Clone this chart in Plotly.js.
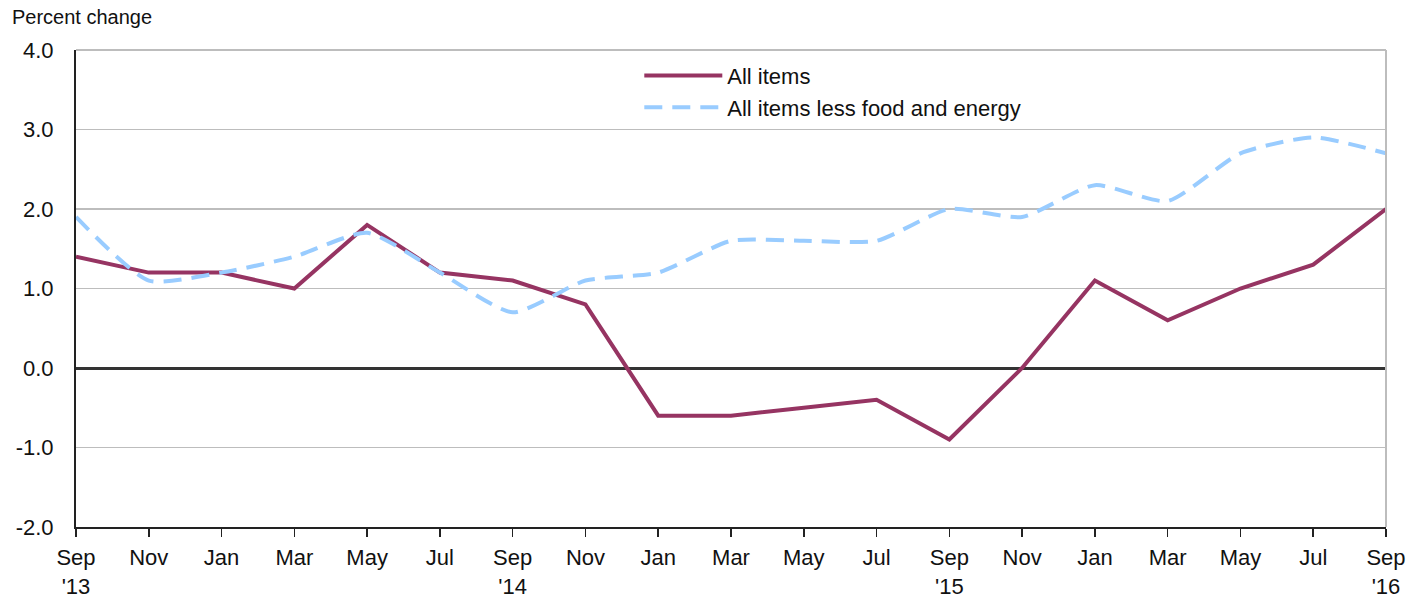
<!DOCTYPE html>
<html>
<head>
<meta charset="utf-8">
<script src="https://cdn.plot.ly/plotly-3.0.1.min.js"></script>
<style>html,body{margin:0;padding:0;background:#fff;}#chart{width:1428px;height:605px;}</style>
</head>
<body>
<div id="chart"></div>
<script>
var months = ["Sep<br>'13","Nov","Jan","Mar","May","Jul","Sep<br>'14","Nov","Jan","Mar","May","Jul","Sep<br>'15","Nov","Jan","Mar","May","Jul","Sep<br>'16"];
var allItems = [1.4,1.2,1.2,1.0,1.8,1.2,1.1,0.8,-0.6,-0.6,-0.5,-0.4,-0.9,0.0,1.1,0.6,1.0,1.3,2.0];
var coreItems = [1.9,1.1,1.2,1.4,1.7,1.2,0.7,1.1,1.2,1.6,1.6,1.6,2.0,1.9,2.3,2.1,2.7,2.9,2.7];
var yTicks = [-2,-1,0,1,2,3,4];
var yTickText = ["-2.0","-1.0","0.0","1.0","2.0","3.0","4.0"];

var idx = months.map(function(_, i){ return i; });

var traces = [
  {x: idx, y: allItems, type: 'scatter', mode: 'lines', name: 'All items',
   line: {color: '#963462', width: 4}},
  {x: idx, y: coreItems, type: 'scatter', mode: 'lines', name: 'All items less food and energy',
   line: {color: '#99ccff', width: 4, dash: '18px,10px', shape: 'spline', smoothing: 0.6}}
];

var layout = {
  width: 1428, height: 605,
  margin: {l: 76, r: 42, t: 50, b: 78},
  paper_bgcolor: '#fff', plot_bgcolor: '#fff',
  font: {family: 'Liberation Sans, Arial, sans-serif', size: 22, color: '#111'},
  showlegend: true,
  legend: {x: 0.43, y: 0.99, xanchor: 'left', yanchor: 'top', bgcolor: 'rgba(0,0,0,0)',
           font: {size: 22, color: '#111'}, itemwidth: 78, tracegroupgap: 0},
  xaxis: {
    range: [0, 18], tickvals: idx, ticktext: months, showgrid: false, zeroline: false,
    showline: true, linecolor: '#222', linewidth: 2,
    ticks: 'outside', ticklen: 8, tickwidth: 1.5, tickcolor: '#222',
    ticklabelstandoff: 2,
    tickfont: {size: 22, color: '#111'}, fixedrange: true
  },
  yaxis: {
    range: [-2, 4], tickvals: yTicks, ticktext: yTickText,
    showgrid: true, gridcolor: '#bdbdbd', gridwidth: 1.5,
    zeroline: true, zerolinecolor: '#333', zerolinewidth: 3,
    showline: true, linecolor: '#222', linewidth: 2, ticks: '',
    ticklabelstandoff: 16,
    tickfont: {size: 22, color: '#111'}, fixedrange: true
  },
  shapes: [
    {type: 'line', xref: 'paper', yref: 'paper', x0: 0, x1: 1, y0: 1, y1: 1, line: {color: '#bdbdbd', width: 2}},
    {type: 'line', xref: 'paper', yref: 'paper', x0: 1, x1: 1, y0: 0, y1: 1, line: {color: '#bdbdbd', width: 2}}
  ],
  annotations: [
    {text: 'Percent change', xref: 'paper', yref: 'paper', x: -0.0504, y: 1.069,
     xanchor: 'left', yanchor: 'middle', showarrow: false, font: {size: 20, color: '#111'}}
  ]
};

Plotly.newPlot('chart', traces, layout, {displayModeBar: false, staticPlot: true});
</script>
</body>
</html>
